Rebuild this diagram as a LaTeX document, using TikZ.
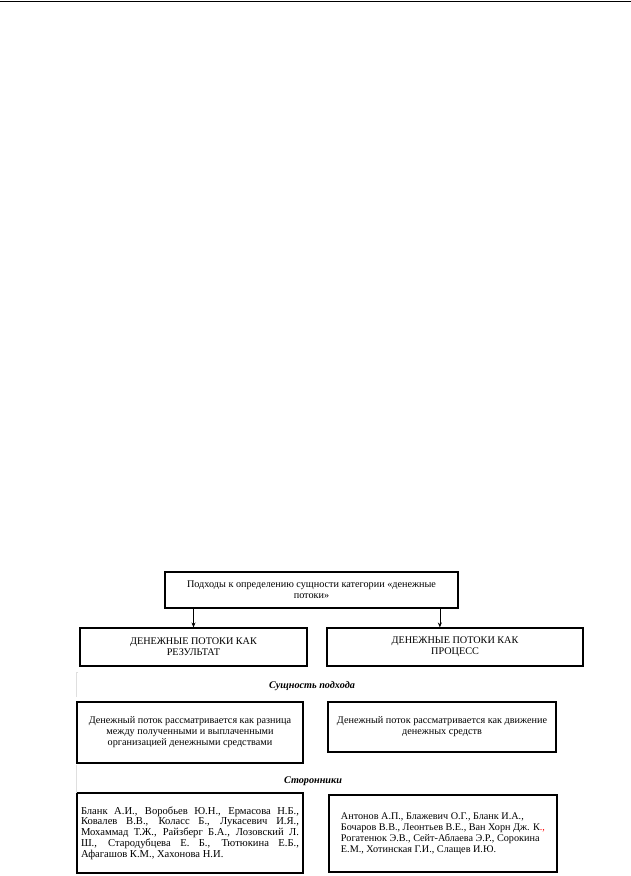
\documentclass[tikz,border=0pt]{standalone}
\usepackage{fontspec}
\setmainfont{Liberation Serif}
\usetikzlibrary{arrows.meta}

\tikzset{
  box/.style={draw, line width=1.1pt, align=center, inner sep=3pt,
    font=\fontsize{10.2}{11}\selectfont},
  heading/.style={font=\fontsize{10.2}{11}\selectfont\bfseries\itshape},
  arr/.style={-{Stealth[length=5pt,width=4pt]}, line width=0.6pt},
  faint/.style={gray!25, line width=0.6pt}
}

\begin{document}
\begin{tikzpicture}[x=1pt,y=-1pt]
  \useasboundingbox (0,0) rectangle (631,876);
  \draw[line width=1.5pt] (0,1.5) -- (631,1.5);

  % main question
  \node[box, line width=1.7pt, minimum width=293pt, minimum height=36pt] (top) at (311.5,590)
    {Подходы к определению сущности категории «денежные\\потоки»};

  % two approaches
  \node[box, minimum width=227pt, minimum height=38pt] (res) at (193.5,647)
    {ДЕНЕЖНЫЕ ПОТОКИ КАК\\РЕЗУЛЬТАТ};
  \node[box, minimum width=256pt, minimum height=38pt] (proc) at (455,647)
    {ДЕНЕЖНЫЕ ПОТОКИ КАК\\ПРОЦЕСС};

  \draw[arr] (top.south -| res.north) -- (res.north);
  \draw[arr] ([xshift=-19pt]top.south east) -- ([xshift=-19pt]top.south east |- proc.north);

  \node[heading] (essence) at (312,686) {Сущность подхода};
  \node[box, minimum width=226pt, minimum height=61pt] (essL) at (190,732.5)
    {Денежный поток рассматривается как разница\\между полученными и выплаченными\\организацией денежными средствами};
  \node[box, minimum width=228pt, minimum height=50pt] (essR) at (442,727)
    {Денежный поток рассматривается как движение\\денежных средств};

  \node[heading] (followers) at (313,781) {Сторонники};
  \node[box, minimum width=226pt, minimum height=80pt, text width=218pt, inner xsep=4pt,
    align=justify, font=\fontsize{10.6}{10.8}\selectfont] (supL) at (190,833)
    {Бланк А.И., Воробьев Ю.Н., Ермасова Н.Б.,\linebreak
     Ковалев В.В., Коласс Б., Лукасевич И.Я.,\linebreak
     Мохаммад Т.Ж., Райзберг Б.А., Лозовский Л.\linebreak
     Ш., Стародубцева Е. Б., Тютюкина Е.Б.,\linebreak
     Афагашов К.М., Хахонова Н.И.};
  \node[box, minimum width=228pt, minimum height=77pt, align=left] (supR) at (443,833.5)
    {Антонов А.П., Блажевич О.Г., Бланк И.А.,\\
     Бочаров В.В., Леонтьев В.Е., Ван Хорн Дж. К\textcolor{red}{.,}\\
     Рогатенюк Э.В., Сейт-Аблаева Э.Р., Сорокина\\
     Е.М., Хотинская Г.И., Слащев И.Ю.};

  % faint table borders
  \draw[faint] (78,672) -- (76,672) -- (76,697);
  \draw[faint] (76,765) -- (76,793);
\end{tikzpicture}
\end{document}
